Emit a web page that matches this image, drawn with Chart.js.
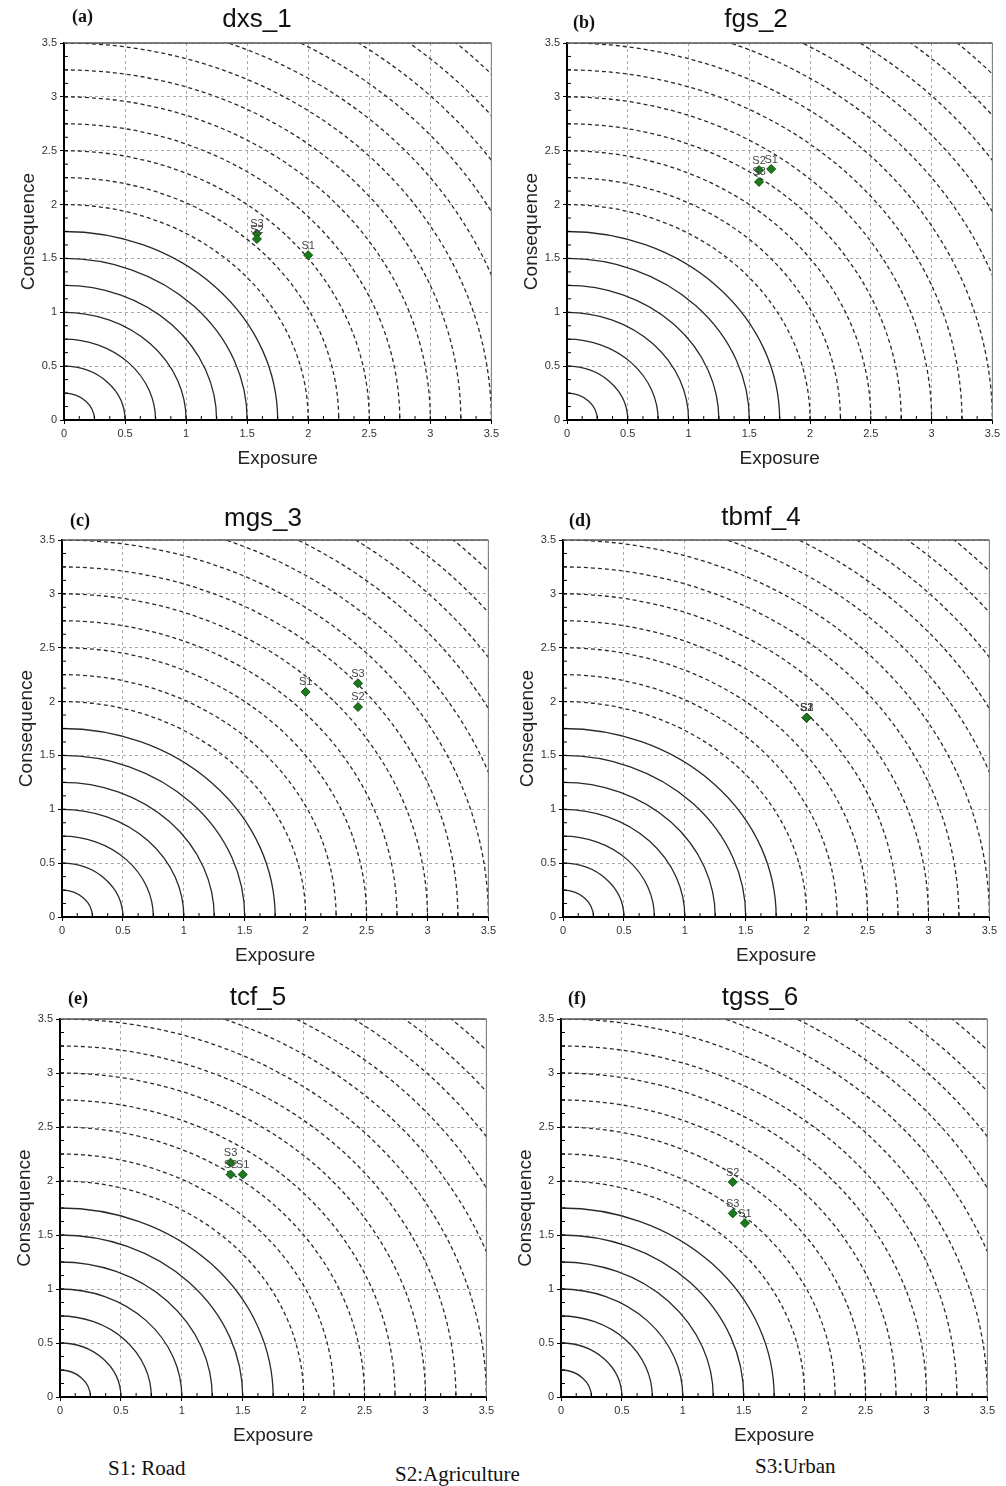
<!DOCTYPE html>
<html>
<head>
<meta charset="utf-8">
<script src="https://cdn.jsdelivr.net/npm/chart.js@4.4.1/dist/chart.umd.min.js"></script>
<style>
  body { margin: 0; background: #fff; width: 1006px; height: 1486px; position: relative; overflow: hidden;
         font-family: "Liberation Sans", Arial, sans-serif; }
  .panel { position: absolute; }
  .title { position: absolute; font-size: 26px; color: #111; transform: translate(-50%, -50%); white-space: nowrap; }
  .letter { position: absolute; font: bold 18px "Liberation Serif", serif; color: #111; transform: translateY(-50%); }
  .legend { position: absolute; font: 21px "Liberation Serif", serif; color: #111; white-space: nowrap; }
</style>
</head>
<body>
<script>
const panelTitles = ["dxs_1", "fgs_2", "mgs_3", "tbmf_4", "tcf_5", "tgss_6"];
const panelLetters = ["(a)", "(b)", "(c)", "(d)", "(e)", "(f)"];
const siteLabels = ["S1", "S2", "S3"];
const siteNames = ["S1: Road", "S2:Agriculture", "S3:Urban"];

// one value per panel (a..f)
const s1Exposure = [2.0, 1.68, 2.0, 2.0, 1.50, 1.51];
const s1Consequence = [1.53, 2.33, 2.09, 1.85, 2.06, 1.61];
const s2Exposure = [1.58, 1.58, 2.43, 2.0, 1.40, 1.41];
const s2Consequence = [1.68, 2.32, 1.95, 1.85, 2.06, 1.99];
const s3Exposure = [1.58, 1.58, 2.43, 2.0, 1.40, 1.41];
const s3Consequence = [1.73, 2.21, 2.17, 1.85, 2.17, 1.70];

const axisTicks = [0, 0.5, 1, 1.5, 2, 2.5, 3, 3.5];
const contourRadii = [0.25, 0.5, 0.75, 1, 1.25, 1.5, 1.75, 2, 2.25, 2.5, 2.75, 3, 3.25, 3.5, 3.75, 4, 4.25, 4.5, 4.75];
const solidLimit = 1.75;
const minorStep = 0.125;

// layout: plot area [left, top, right, bottom] of each panel, in page pixels
const plotBoxes = [
  [64, 43, 491, 420], [567, 43, 992, 420],
  [62, 540, 488, 917], [563, 540, 989, 917],
  [60, 1019, 486, 1397], [561, 1019, 987, 1397]
];
const titlePos = [[257, 18], [756, 18], [263, 517], [761, 516], [258, 996], [760, 996]];
const letterPos = [[72, 16], [573, 22], [70, 520], [569, 520], [68, 998], [568, 998]];
const legendPos = [[108, 1456], [395, 1462], [755, 1454]];

const exposure = [s1Exposure, s2Exposure, s3Exposure];
const consequence = [s1Consequence, s2Consequence, s3Consequence];

const Y_AXIS_W = 60, X_AXIS_H = 50, PAD_TOP = 10, PAD_RIGHT = 8, EDGE_FIX = 3;

const contourPlugin = {
  id: "contours",
  beforeDatasetsDraw(chart) {
    const { ctx, chartArea: a, scales: { x, y } } = chart;
    const x0 = x.getPixelForValue(0);
    const y0 = y.getPixelForValue(0);
    ctx.save();
    ctx.beginPath();
    ctx.rect(a.left, a.top, a.width, a.height);
    ctx.clip();
    ctx.strokeStyle = "#2a2a2a";
    ctx.lineWidth = 1.3;
    contourRadii.forEach((r) => {
      ctx.setLineDash(r <= solidLimit ? [] : [4, 3]);
      ctx.beginPath();
      ctx.ellipse(x0, y0, x.getPixelForValue(r) - x0, y0 - y.getPixelForValue(r), 0, -Math.PI / 2, 0);
      ctx.stroke();
    });
    ctx.restore();

    // top / right frame
    ctx.save();
    ctx.setLineDash([]);
    ctx.strokeStyle = "#555";
    ctx.lineWidth = 1.5;
    ctx.beginPath();
    ctx.moveTo(a.left, a.top);
    ctx.lineTo(a.right, a.top);
    ctx.stroke();
    ctx.strokeStyle = "#777";
    ctx.lineWidth = 1;
    ctx.beginPath();
    ctx.moveTo(a.right, a.top);
    ctx.lineTo(a.right, a.bottom);
    ctx.stroke();

    // minor ticks, inside the axes
    ctx.strokeStyle = "#000";
    ctx.lineWidth = 1;
    ctx.beginPath();
    for (let v = minorStep; v < 3.5; v += minorStep) {
      const px = x.getPixelForValue(v);
      const py = y.getPixelForValue(v);
      ctx.moveTo(px, a.bottom);
      ctx.lineTo(px, a.bottom - 4);
      ctx.moveTo(a.left, py);
      ctx.lineTo(a.left + 4, py);
    }
    ctx.stroke();
    ctx.restore();
  },
  afterDatasetsDraw(chart) {
    const { ctx } = chart;
    ctx.save();
    ctx.font = "11px 'Liberation Sans', Arial, sans-serif";
    ctx.fillStyle = "#444";
    ctx.textAlign = "center";
    ctx.textBaseline = "bottom";
    chart.data.datasets.forEach((ds, k) => {
      const pt = chart.getDatasetMeta(k).data[0];
      ctx.fillText(ds.label, pt.x, pt.y - 4);
    });
    ctx.restore();
  }
};

function axisOptions(titleText, isX) {
  return {
    type: "linear",
    min: 0,
    max: 3.5,
    afterBuildTicks: (s) => { s.ticks = axisTicks.map((v) => ({ value: v })); },
    afterFit: (s) => { if (isX) s.height = X_AXIS_H; else s.width = Y_AXIS_W; },
    ticks: {
      font: { size: 11, family: "'Liberation Sans', Arial, sans-serif" },
      color: "#333",
      padding: 3,
      maxRotation: 0,
      autoSkip: false,
      callback: (v) => String(v)
    },
    grid: { color: "#aaa", lineWidth: 1, tickLength: 4, tickColor: "#000", tickWidth: 1 },
    border: { display: true, color: "#000", width: 2, dash: [3, 3] },
    title: {
      display: true,
      text: titleText,
      color: "#222",
      font: { size: 19, family: "'Liberation Sans', Arial, sans-serif" },
      padding: isX ? { top: 0, bottom: 0 } : { top: 13, bottom: 0 }
    }
  };
}

panelTitles.forEach((title, i) => {
  const [l, t, r, b] = plotBoxes[i];
  const div = document.createElement("div");
  div.className = "panel";
  div.style.left = (l - Y_AXIS_W) + "px";
  div.style.top = (t - PAD_TOP) + "px";
  div.style.width = (r - l + Y_AXIS_W + PAD_RIGHT + EDGE_FIX) + "px";
  div.style.height = (b - t + PAD_TOP + X_AXIS_H) + "px";
  const canvas = document.createElement("canvas");
  div.appendChild(canvas);
  document.body.appendChild(div);

  const t1 = document.createElement("div");
  t1.className = "title";
  t1.textContent = title;
  t1.style.left = titlePos[i][0] + "px";
  t1.style.top = titlePos[i][1] + "px";
  document.body.appendChild(t1);

  const t2 = document.createElement("div");
  t2.className = "letter";
  t2.textContent = panelLetters[i];
  t2.style.left = letterPos[i][0] + "px";
  t2.style.top = letterPos[i][1] + "px";
  document.body.appendChild(t2);

  new Chart(canvas, {
    type: "scatter",
    data: {
      datasets: siteLabels.map((s, k) => ({
        label: s,
        data: [{ x: exposure[k][i], y: consequence[k][i] }],
        pointStyle: "rectRot",
        pointRadius: 4.5,
        pointHoverRadius: 4.5,
        backgroundColor: "#1c7a1c",
        borderColor: "#0c4f0c",
        borderWidth: 1
      }))
    },
    options: {
      animation: false,
      responsive: true,
      maintainAspectRatio: false,
      layout: { padding: { left: 0, top: PAD_TOP, right: PAD_RIGHT, bottom: 0 } },
      plugins: { legend: { display: false }, tooltip: { enabled: false } },
      scales: {
        x: axisOptions("Exposure", true),
        y: axisOptions("Consequence", false)
      }
    },
    plugins: [contourPlugin]
  });
});

siteNames.forEach((name, k) => {
  const el = document.createElement("div");
  el.className = "legend";
  el.textContent = name;
  el.style.left = legendPos[k][0] + "px";
  el.style.top = legendPos[k][1] + "px";
  document.body.appendChild(el);
});
</script>
</body>
</html>
